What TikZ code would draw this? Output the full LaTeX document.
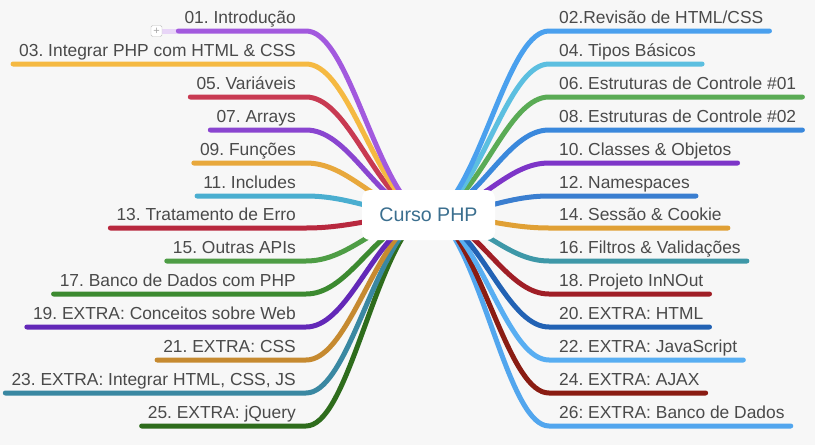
\documentclass[tikz,border=0pt]{standalone}
\usepackage{fontspec}
\setmainfont{Liberation Sans}
\usetikzlibrary{calc,backgrounds}
\frenchspacing
\definecolor{fundo}{HTML}{F7F7F7}
\definecolor{texto}{HTML}{4A4A4A}
\definecolor{azultit}{HTML}{3B6F8F}
\definecolor{c01}{HTML}{A259DE}
\definecolor{c03}{HTML}{F5B942}
\definecolor{c05}{HTML}{C83A52}
\definecolor{c07}{HTML}{8A45D0}
\definecolor{c09}{HTML}{E8A83C}
\definecolor{c11}{HTML}{4AAED0}
\definecolor{c13}{HTML}{B8283E}
\definecolor{c15}{HTML}{4E9D45}
\definecolor{c17}{HTML}{3C8A30}
\definecolor{c19}{HTML}{6328B8}
\definecolor{c21}{HTML}{C68A30}
\definecolor{c23}{HTML}{3A88A2}
\definecolor{c25}{HTML}{2E6C1C}
\definecolor{c02}{HTML}{4AA0EE}
\definecolor{c04}{HTML}{5CBFE0}
\definecolor{c06}{HTML}{5AAB55}
\definecolor{c08}{HTML}{3A88DC}
\definecolor{c10}{HTML}{7D35C8}
\definecolor{c12}{HTML}{3A7ED0}
\definecolor{c14}{HTML}{E0A035}
\definecolor{c16}{HTML}{3E98A8}
\definecolor{c18}{HTML}{A01E26}
\definecolor{c20}{HTML}{2262B4}
\definecolor{c22}{HTML}{58AEF2}
\definecolor{c24}{HTML}{8A1C12}
\definecolor{c26}{HTML}{52A6EE}
\tikzset{
  topico/.style={text=texto, font=\fontsize{17.4}{20}\selectfont, inner xsep=6pt, inner ysep=3pt, text height=13pt, text depth=4pt},
  ramo/.style={line width=5pt, line cap=round},
  centro/.style={fill=white, rounded corners=8pt, minimum width=133pt, minimum height=50pt, text=azultit, font=\fontsize{19.6}{22}\selectfont}
}
\def\ramoesq#1#2#3{\draw[ramo,#3] (#1.south west) -- ($(#1.south east)+(4,0)$) .. controls (345,#2) and (370,{215+(#2-215)*0.3}) .. ($(curso)+(-18,{(#2-215)*0.05})$);}
\def\ramodir#1#2#3{\draw[ramo,#3] (#1.south east) -- ($(#1.south west)+(-4,0)$) .. controls (511,#2) and (486,{215+(#2-215)*0.3}) .. ($(curso)+(18,{(#2-215)*0.05})$);}

\begin{document}
\begin{tikzpicture}[x=1pt,y=-1pt]
	%%%%% START %%%%%
	\node[centro] (curso) at (428.5,215) {Curso PHP};
	
	% esquerda
	\node[topico, anchor=south east] (t01) at (302,31) {01. Introdução};
	\node[topico, anchor=south east] (t03) at (302,64) {03. Integrar PHP com HTML \& CSS};
	\node[topico, anchor=south east] (t05) at (302,97) {05. Variáveis};
	\node[topico, anchor=south east] (t07) at (302,130) {07. Arrays};
	\node[topico, anchor=south east] (t09) at (302,163) {09. Funções};
	\node[topico, anchor=south east] (t11) at (302,196) {11. Includes};
	\node[topico, anchor=south east] (t13) at (302,228) {13. Tratamento de Erro};
	\node[topico, anchor=south east] (t15) at (302,261) {15. Outras APIs};
	\node[topico, anchor=south east] (t17) at (302,294) {17. Banco de Dados com PHP};
	\node[topico, anchor=south east] (t19) at (302,327) {19. EXTRA: Conceitos sobre Web};
	\node[topico, anchor=south east] (t21) at (302,360) {21. EXTRA: CSS};
	\node[topico, anchor=south east] (t23) at (302,393) {23. EXTRA: Integrar HTML, CSS, JS};
	\node[topico, anchor=south east] (t25) at (302,426) {25. EXTRA: jQuery};
	
	% direita
	\node[topico, anchor=south west] (t02) at (553,31) {02.Revisão de HTML/CSS};
	\node[topico, anchor=south west] (t04) at (553,64) {04. Tipos Básicos};
	\node[topico, anchor=south west] (t06) at (553,97) {06. Estruturas de Controle \#01};
	\node[topico, anchor=south west] (t08) at (553,130) {08. Estruturas de Controle \#02};
	\node[topico, anchor=south west] (t10) at (553,163) {10. Classes \& Objetos};
	\node[topico, anchor=south west] (t12) at (553,196) {12. Namespaces};
	\node[topico, anchor=south west] (t14) at (553,228) {14. Sessão \& Cookie};
	\node[topico, anchor=south west] (t16) at (553,261) {16. Filtros \& Validações};
	\node[topico, anchor=south west] (t18) at (553,294) {18. Projeto InNOut};
	\node[topico, anchor=south west] (t20) at (553,327) {20. EXTRA: HTML};
	\node[topico, anchor=south west] (t22) at (553,360) {22. EXTRA: JavaScript};
	\node[topico, anchor=south west] (t24) at (553,393) {24. EXTRA: AJAX};
	\node[topico, anchor=south west] (t26) at (553,426) {26: EXTRA: Banco de Dados};
	
	\node[draw=black!25, fill=white, rounded corners=1.5pt, minimum size=11pt, inner sep=0pt, text=black!35, font=\fontsize{11}{11}\selectfont] (mais) at (156.5,31) {+};
	
	\begin{scope}[on background layer]
	\fill[fundo] (0,0) rectangle (815,445);
	\draw[line width=5pt, c01!25] (mais.east) -- (t01.south west);
	
	\ramoesq{t25}{426}{c25}
	\ramoesq{t23}{393}{c23}
	\ramoesq{t21}{360}{c21}
	\ramoesq{t19}{327}{c19}
	\ramoesq{t17}{294}{c17}
	\ramoesq{t15}{261}{c15}
	\ramoesq{t13}{228}{c13}
	\ramoesq{t11}{196}{c11}
	\ramoesq{t09}{163}{c09}
	\ramoesq{t07}{130}{c07}
	\ramoesq{t05}{97}{c05}
	\ramoesq{t03}{64}{c03}
	\ramoesq{t01}{31}{c01}
	
	\ramodir{t26}{426}{c26}
	\ramodir{t24}{393}{c24}
	\ramodir{t22}{360}{c22}
	\ramodir{t20}{327}{c20}
	\ramodir{t18}{294}{c18}
	\ramodir{t16}{261}{c16}
	\ramodir{t14}{228}{c14}
	\ramodir{t12}{196}{c12}
	\ramodir{t10}{163}{c10}
	\ramodir{t08}{130}{c08}
	\ramodir{t06}{97}{c06}
	\ramodir{t04}{64}{c04}
	\ramodir{t02}{31}{c02}
	\end{scope}
	%%%%% END %%%%%
\end{tikzpicture}
\end{document}
